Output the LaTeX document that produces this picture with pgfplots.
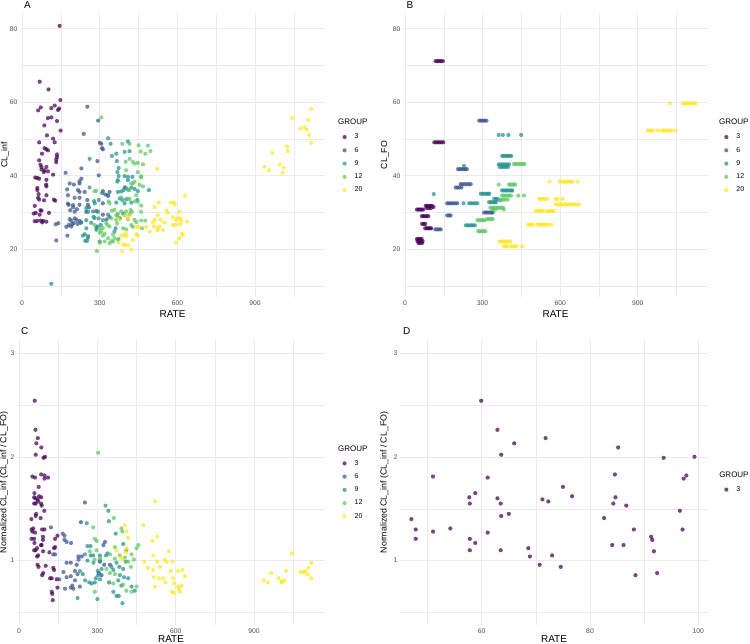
\documentclass[border=0pt]{standalone}
\usepackage{pgfplots}
\usepackage{pgfplotstable}
\pgfplotsset{compat=1.18}
\usepackage{fontspec}
\setmainfont{Liberation Sans}

\definecolor{v1}{HTML}{440154}
\definecolor{v2}{HTML}{3B528B}
\definecolor{v3}{HTML}{21908C}
\definecolor{v4}{HTML}{5DC863}
\definecolor{v5}{HTML}{FDE725}
\definecolor{gridc}{HTML}{EBEBEB}
\definecolor{tickc}{HTML}{4D4D4D}

\tikzset{grouptitle/.style={anchor=west, inner sep=0pt, font=\fontsize{8}{10}\selectfont}}

\pgfplotsset{
  panel/.style={
    scale only axis, clip=false,
    axis line style={draw=none},
    major tick length=0pt, minor tick length=0pt,
    grid=both,
    major grid style={gridc, line width=0.6bp},
    minor grid style={gridc, line width=0.35bp},
    tick label style={font=\fontsize{6.8}{8}\selectfont, text=tickc},
    /pgf/number format/assume math mode=true,
    scaled ticks=false,
    every x tick label/.append style={inner sep=0pt, yshift=-3.2bp},
    every y tick label/.append style={inner sep=0pt, xshift=-2.5bp},
    label style={font=\fontsize{8.8}{10}\selectfont},
    xlabel={RATE},
    every axis x label/.style={at={(axis description cs:0.5,0)}, anchor=center, yshift=-17bp},
    legend style={draw=none, fill=none, anchor=north west, inner sep=0pt,
      font=\fontsize{7}{8}\selectfont, row sep=6.9bp,
      nodes={inner sep=0pt},
      /tikz/every odd column/.append style={column sep=8bp}},
    legend cell align=left,
    legend image code/.code={\draw[mark repeat=2,mark phase=2,##1] plot coordinates {(0bp,0bp)(2bp,0bp)(4bp,0bp)};},
  },
  grp/.style={only marks, mark=*, mark size=2.1bp, color=#1,
    mark options={draw opacity=0, fill=#1, fill opacity=0.72}},
  ticksA/.style={xtick={0,300,600,900}, minor xtick={150,450,750,1050},
    xmin=-8, xmax=1170},
}

% group 3 subjects with RATE below 100 (normalized clearance)
\pgfplotstableread{
x y
59.9 2.54
62.9 2.26
71.8 2.18
66.0 2.13
85.2 2.09
63.6 2.02
93.6 1.99
99.3 2.00
51.0 1.81
61.1 1.80
84.6 1.83
97.8 1.82
97.3 1.79
75.0 1.71
58.8 1.65
57.7 1.61
76.7 1.62
84.7 1.61
62.9 1.60
71.2 1.59
72.3 1.57
57.8 1.55
63.5 1.55
84.3 1.55
86.7 1.53
96.6 1.48
65.0 1.45
63.6 1.43
47.0 1.40
82.6 1.41
47.8 1.30
54.2 1.31
51.0 1.28
88.1 1.30
97.1 1.30
61.1 1.27
47.8 1.21
57.8 1.21
91.3 1.23
91.5 1.20
58.8 1.17
84.1 1.15
86.2 1.15
68.6 1.12
57.8 1.10
63.5 1.10
91.8 1.09
68.9 1.04
73.0 1.05
70.7 0.96
74.6 0.94
92.4 0.88
88.4 0.86
}\lowrate

\begin{document}
\begin{tikzpicture}
\useasboundingbox (0,0) rectangle (750bp,644bp);

% ---------------- A: CL_inf ----------------
\begin{axis}[panel, ticksA, at={(20bp,631bp)}, anchor=north west,
  width=305bp, height=284bp,
  ymin=7, ymax=84.3, ytick={20,40,60,80}, minor ytick={10,30,50,70},
  ylabel={CL\_inf}, ylabel style={at={(axis description cs:-0.049,0.5)}, anchor=center},
  legend style={at={(axis description cs:1.0567,0.575)}}]
\addplot[grp=v1] coordinates {(68,65.6)(102,63.5)(145,80.8)(148,60.6)(72,58.6)(62,57.8)(126,59.1)(143,58.3)(139,57.9)(113,58.4)(100,55.7)(113,55.9)(135,54.9)(86,53.7)(149,52.3)(66,49.1)(126,49.1)(120,50.1)(96,51)(87,47.5)(94,47.2)(100,46.9)(77,46)(135,45.8)(135,45.1)(132,44.4)(132,43.7)(66,44.2)(71,43)(75,42.4)(94,42.4)(75,41.7)(87,41.5)(100,41.2)(84,41)(120,40.3)(51,39.5)(59,39.4)(66,39.2)(94,38.9)(93,37.6)(94,37.1)(59,36.7)(59,36.1)(64,35)(94,34.7)(62,34)(66,33.5)(85,33.3)(123,33.5)(128,33.2)(49,31.8)(71,30.6)(75,30.5)(53,29.9)(45,29.7)(104,29.9)(68,29.4)(58,27.7)(49,27.6)(72,27.8)(81,27.7)(94,27.5)(78,27.3)};
\addplot[grp=v2] coordinates {(252,58.8)(294,55)(238,51.4)(300,49)(306,48.7)(309,47.5)(312,47.2)(291,44)(168,40.8)(229,42)(229,39.2)(296,40.1)(184,37.9)(200,37.6)(222,37.9)(222,38.5)(174,36.3)(216,36.1)(222,35.6)(242,35.6)(177,34.7)(203,34)(222,34)(252,33.4)(177,32.4)(197,32)(197,31.4)(212,30.9)(186,30.6)(203,30.2)(248,30.2)(222,32.1)(287,30.4)(312,32.5)(321,34.9)(332,34.7)(338,35.6)(312,35.8)(184,28.2)(190,27.7)(203,28.4)(210,28)(222,27.7)(193,26.8)(171,26.1)(180,26.6)(229,27.3)(175,23.7)(132,22.4)(130,26.8)(140,27.1)(326,28.1)(338,28.8)(312,29.4)(200,27.1)(215,26.9)(190,26.2)(254,32.1)(258,31.4)(180,32.1)};
\addplot[grp=v3] coordinates {(113,10.6)(261,44.6)(332,50.2)(342,48.7)(347,45.4)(409,49.3)(415,46.7)(366,44)(373,42.1)(368,41)(373,39.9)(370,38.8)(396,39.9)(409,39.7)(409,38.8)(426,39.7)(396,36.8)(409,36.2)(422,36.8)(435,36.4)(447,35.8)(370,35.6)(377,33.8)(387,33.4)(402,33.6)(422,32.7)(490,36.1)(445,33.4)(332,34.5)(309,35.3)(296,33.4)(281,32.5)(261,36.8)(248,31.2)(255,30.2)(226,27.2)(248,27.9)(267,27.2)(276,28.8)(293,30.2)(296,28.4)(304,26.6)(312,27.9)(242,24.1)(235,23.7)(255,23.6)(244,22.3)(251,22.3)(300,22.1)(377,28.4)(390,29.7)(415,29.5)(357,24.8)(361,25.7)(396,29.3)(248,25.7)(287,25.9)(278,33.1)(291,26.2)(287,25.3)(254,23.1)(280,28.5)(364,46)(396,46.5)(368,38.4)(400,36.8)(392,36.1)(383,35.7)(364,32.7)(396,32.5)(274,30.3)(332,29.4)};
\addplot[grp=v4] coordinates {(306,55.9)(289,19.5)(300,21.8)(319,22.1)(332,23)(351,22.1)(357,23)(338,21.6)(373,22.8)(319,24.2)(300,24.5)(312,23.7)(280,26.6)(300,25.7)(329,26.6)(345,28.4)(367,27)(390,25.7)(402,25.4)(428,26.1)(463,25.7)(460,27.8)(476,27.8)(441,27.4)(409,28.2)(370,29.7)(424,30.2)(460,30.2)(409,33.8)(447,32.9)(441,34.7)(415,36.1)(428,37.9)(434,38.4)(454,37.5)(467,37.1)(460,39.5)(447,41)(460,39.9)(447,43.5)(467,43.1)(476,46)(486,48.2)(496,46.7)(415,48.7)(428,43.8)(415,44.6)(280,35.8)(287,35.9)(338,32.5)(347,30.5)(364,29.3)(387,48.7)(450,48.3)(458,46.6)(435,43.3)(400,43.8)(402,41.5)(422,37.9)(383,34.1)(415,33.7)(435,33)(334,33)(357,30.7)(368,29.2)(383,30.3)(402,30.3)(419,30.7)(460,31.9)(325,27.1)(338,26.2)(312,25.8)(364,28)(377,28.5)(434,28)(422,26.6)(306,24.9)(351,24)(345,22.2)(370,22.6)};
\addplot[grp=v5] coordinates {(1116,58.2)(1043,55.7)(1105,55.2)(1090,53.2)(1075,52.8)(1099,52.6)(1109,51.1)(1116,49)(1023,48)(1026,46.7)(966,46.2)(994,43.1)(936,42.4)(953,41.5)(1010,42.2)(1006,40.8)(523,41.9)(629,34.6)(573,32.7)(585,32.7)(591,32.2)(528,32.7)(512,31.5)(558,30.5)(562,29.9)(524,29.3)(608,30.2)(582,28.7)(601,28.4)(610,28.4)(594,28)(512,28)(535,28)(505,27.3)(614,27.7)(637,27.5)(550,27.3)(582,26.6)(592,26.6)(509,26.2)(531,26.2)(610,26.8)(480,26.1)(522,25.7)(524,25.2)(544,25.2)(493,24.8)(617,24.3)(621,23.9)(608,23)(595,21.8)(387,19.4)(392,21.3)(402,24.3)(392,23.9)(383,23.7)(373,21.8)(409,21.1)(428,22.5)(422,19.9)(447,23.7)(441,26.1)(415,29.3)(373,28.1)(451,26.1)(402,23.5)(396,21.2)(441,24.1)(409,28.5)(396,29.2)};
\legend{3,6,9,12,20}
\node[grouptitle] at (axis description cs:1.0426,0.617) {GROUP};
\end{axis}

% ---------------- B: CL_FO ----------------
\begin{axis}[panel, ticksA, at={(403bp,631bp)}, anchor=north west,
  width=305bp, height=284bp, xmax=1172,
  ymin=7, ymax=84.3, ytick={20,40,60,80}, minor ytick={10,30,50,70},
  ylabel={CL\_FO}, ylabel style={at={(axis description cs:-0.059,0.5)}, anchor=center},
  legend style={at={(axis description cs:1.0525,0.575)}}]
\addplot[grp=v1] coordinates {(118,71.2)(125,71.2)(132,71.2)(139,71.2)(146,71.2)
 (113,49.1)(120,49.1)(127,49.1)(134,49.1)(141,49.1)(148,49.1)
 (80,31.8)(86,31.8)(92,31.8)(98,31.8)(104,31.8)(110,31.5)(84,31.2)(92,31.2)(100,31.2)
 (46,30.8)(52,30.8)(58,30.8)(64,30.8)(70,30.8)
 (65,29)(71,29)(77,29)(84,29)(90,29)
 (66,26.9)(72,26.9)(78,26.9)
 (78,25.7)(84,25.7)(90,25.7)(96,25.7)(101,25.7)
 (46,22.8)(52,22.8)(58,22.8)(64,22.8)(48,22.2)(55,22.2)(62,22.2)(68,22.2)(52,21.7)(58,21.7)(66,21.7)};
\addplot[grp=v2] coordinates {(287,55)(294,55)(301,55)(308,55)(315,55)
 (205,41.8)(212,41.8)(219,41.8)(226,41.8)(233,41.8)(239,41.8)
 (215,37.7)(222,37.7)(230,37.7)(238,37.7)(246,37.7)(254,37.7)
 (196,36.8)(203,36.8)(210,36.8)(218,36.8)
 (163,32.5)(170,32.5)(178,32.5)(186,32.5)(194,32.5)(202,32.5)
 (306,30)(313,30)(320,30)(327,30)(334,30)(339,30)
 (163,29.2)(170,29.2)(176,29.2)
 (117,25.4)(124,25.4)(131,25.4)(138,25.4)};
\addplot[grp=v3] coordinates {(362,51.1)(378,51.1)(400,51.1)(449,51.1)
 (376,45.4)(383,45.4)(390,45.4)(397,45.4)(404,45.4)(411,45.4)
 (362,43.1)(370,43.1)(378,43.1)(386,43.1)(394,43.1)(402,43.1)
 (366,42.4)(374,42.4)(382,42.4)(390,42.4)(398,42.4)
 (228,42.7)(111,35)
 (375,36)(382,36)(389,36)(396,36)(403,36)(410,36)(415,36)
 (293,35.1)(300,35.1)(307,35.1)(314,35.1)(321,35.1)(326,35.1)
 (345,33.7)(352,33.7)(358,33.7)
 (325,32.8)(332,32.8)(339,32.8)(346,32.8)(352,32.8)
 (226,32.5)(248,32.5)(256,32.5)(264,32.5)(272,32.5)(280,32.5)
 (368,33.3)
 (235,26.5)(242,26.5)(249,26.5)(256,26.5)(263,26.5)(270,26.5)};
\addplot[grp=v4] coordinates {(421,43.2)(428,43.2)(435,43.2)(442,43.2)(449,43.2)(456,43.2)(462,43.2)
 (362,37.6)(402,37.6)(408,37.6)(414,37.6)(420,37.6)(426,37.6)
 (375,34.6)(382,34.6)(389,34.6)(396,34.6)(403,34.6)(410,34.6)(438,34.6)(460,34.6)
 (372,33.5)(380,33.5)(388,33.5)(397,33.5)
 (330,31.3)(337,31.3)(344,31.3)(351,31.3)(358,31.3)(365,31.3)(372,31.3)(379,31.3)
 (340,30.8)(350,30.8)(382,30.8)
 (317,28.2)(325,28.2)(333,28.2)(339,28.2)
 (280,27.9)(287,27.9)(294,27.9)(301,27.9)(308,27.9)
 (283,24.9)(290,24.9)(297,24.9)(304,24.9)(311,24.9)};
\addplot[grp=v5] coordinates {(1025,59.7)(1075,59.7)(1082,59.7)(1089,59.7)(1096,59.7)(1103,59.7)(1110,59.7)(1117,59.7)(1124,59.7)
 (939,52.3)(946,52.3)(953,52.3)(960,52.3)(978,52.3)(994,52.3)(1001,52.3)(1008,52.3)(1015,52.3)(1022,52.3)(1030,52.3)(1046,52.3)
 (559,38.4)(598,38.4)(605,38.4)(612,38.4)(619,38.4)(626,38.4)(633,38.4)(640,38.4)(647,38.4)(667,38.4)
 (518,33.7)(525,33.7)(532,33.7)(539,33.7)(550,33.7)(583,33.7)(590,33.7)(609,33.7)
 (583,32.2)(590,32.2)(597,32.2)(604,32.2)(611,32.2)(618,32.2)(625,32.2)(632,32.2)(640,32.2)(647,32.2)(655,32.2)(664,32.2)(673,32.2)
 (505,30.4)(512,30.4)(519,30.4)(526,30.4)(533,30.4)(548,30.4)(555,30.4)(562,30.4)(569,30.4)(576,30.4)
 (475,26.7)(482,26.7)(489,26.7)(496,26.7)(512,26.7)(519,26.7)(526,26.7)(533,26.7)(540,26.7)(547,26.7)(555,26.7)(567,26.7)
 (365,22.1)(372,22.1)(379,22.1)(386,22.1)(393,22.1)(400,22.1)(408,22.1)
 (382,20.8)(389,20.8)(396,20.8)(410,20.8)(417,20.8)(424,20.8)(431,20.8)(453,20.8)};
\legend{3,6,9,12,20}
\node[grouptitle] at (axis description cs:1.036,0.617) {GROUP};
\end{axis}

% ---------------- C: normalized, all groups ----------------
\begin{axis}[panel, ticksA, at={(17bp,304bp)}, anchor=north west,
  width=308bp, height=285bp, xmax=1172,
  ymin=0.38, ymax=3.125, ytick={1,2,3}, minor ytick={0.5,1.5,2.5},
  ylabel={Normalized CL\_inf (CL\_inf / CL\_FO)},
  ylabel style={at={(axis description cs:-0.042,0.5)}, anchor=center},
  every axis x label/.append style={yshift=2.5bp},
  legend style={at={(axis description cs:1.056,0.579)}}]
\addplot[grp=v1] table {\lowrate};
\addplot[grp=v2] coordinates {(252,1.56)(122,1.32)(237,1.37)(167,1.26)(174,1.24)(174,1.20)(182,1.18)(199,1.17)(131,1.06)(138,1.06)(323,1.15)(329,1.18)(227,1.04)(240,1.04)(228,1.01)(182,0.98)(198,0.98)(221,0.96)(170,0.89)(182,0.84)(198,0.85)(214,0.90)(224,0.87)(204,0.76)(198,0.74)(208,0.73)(233,0.75)(176,0.73)(214,0.81)(154,0.82)(310,0.99)(326,0.96)(348,0.96)(306,0.88)(316,0.86)(345,0.79)};
\addplot[grp=v3] coordinates {(331,1.53)(342,1.48)(344,1.38)(259,1.36)(370,1.26)(262,1.14)(274,1.14)(252,1.06)(274,1.05)(284,1.05)(310,1.05)(333,1.05)(339,1.07)(399,1.16)(411,1.10)(262,1.00)(285,0.98)(310,1.00)(316,0.92)(301,0.90)(303,0.86)(294,0.83)(310,0.82)(290,0.79)(269,0.79)(278,0.78)(253,0.81)(244,0.87)(233,0.90)(224,0.64)(300,0.63)(354,0.94)(361,0.91)(373,0.98)(384,0.94)(399,0.92)(409,0.99)(386,0.86)(402,0.84)(418,0.83)(380,0.81)(392,0.76)(361,0.70)(373,0.66)(382,0.66)(431,0.75)(443,0.71)(396,0.59)};
\addplot[grp=v4] coordinates {(303,2.04)(363,1.41)(284,1.32)(290,1.21)(297,1.19)(392,1.31)(396,1.28)(297,1.10)(271,1.09)(289,1.01)(310,1.02)(348,1.06)(367,1.02)(386,1.05)(431,1.06)(450,1.12)(457,1.15)(440,1.01)(418,0.99)(428,0.94)(335,0.92)(348,0.88)(367,0.87)(345,0.79)(361,0.78)(399,0.77)(411,0.71)(431,0.70)(450,0.75)(290,0.70)(405,1.03)(367,1.13)};
\addplot[grp=v5] coordinates {(521,1.57)(529,1.23)(511,1.19)(418,1.22)(412,1.28)(405,1.34)(476,1.34)(574,1.09)(514,1.05)(529,0.99)(558,1.01)(565,0.99)(539,0.94)(514,0.91)(479,0.99)(494,0.93)(517,0.84)(536,0.83)(552,0.83)(520,0.75)(561,0.79)(581,0.90)(588,0.99)(609,0.90)(626,0.91)(635,0.85)(590,0.83)(593,0.78)(609,0.75)(622,0.76)(613,0.73)(584,0.70)(593,0.69)(616,0.70)(409,1.08)(412,1.12)(389,1.03)(396,1.01)(373,1.10)(1046,1.07)(1119,0.98)(1109,0.93)(1096,0.90)(1090,0.89)(1078,0.89)(1106,0.87)(1119,0.83)(966,0.88)(1023,0.90)(937,0.81)(953,0.79)(994,0.83)(1006,0.80)(1016,0.81)(1006,0.79)};
\addplot[grp=v1, forget plot] coordinates {(111,1.80)(116,1.08)(102,0.95)(119,0.83)(125,0.83)(144,0.82)(131,0.93)(134,0.91)(125,0.70)(127,0.68)(129,0.62)(147,0.74)(134,1.12)(138,1.13)(147,1.24)(138,1.21)};
\legend{3,6,9,12,20}
\node[grouptitle] at (axis description cs:1.042,0.619) {GROUP};
\end{axis}

% ---------------- D: normalized, group 3 ----------------
\begin{axis}[panel, at={(400bp,304bp)}, anchor=north west,
  width=308bp, height=285bp,
  xmin=44.9, xmax=101.8, xtick={60,80,100}, minor xtick={50,70,90},
  ymin=0.38, ymax=3.125, ytick={1,2,3}, minor ytick={0.5,1.5,2.5},
  ylabel={Normalized CL\_inf (CL\_inf / CL\_FO)},
  ylabel style={at={(axis description cs:-0.051,0.5)}, anchor=center},
  every axis x label/.append style={yshift=2.5bp},
  legend style={at={(axis description cs:1.052,0.487)}}]
\addplot[grp=v1] table {\lowrate};
\legend{3}
\node[grouptitle] at (axis description cs:1.036,0.527) {GROUP};
\end{axis}

% panel tags
\node[anchor=base west, font=\fontsize{10}{12}\selectfont] at (20.5bp,635.7bp) {A};
\node[anchor=base west, font=\fontsize{10}{12}\selectfont] at (403bp,635.7bp) {B};
\node[anchor=base west, font=\fontsize{10}{12}\selectfont] at (17.5bp,309.5bp) {C};
\node[anchor=base west, font=\fontsize{10}{12}\selectfont] at (399.5bp,309.5bp) {D};
\end{tikzpicture}
\end{document}
